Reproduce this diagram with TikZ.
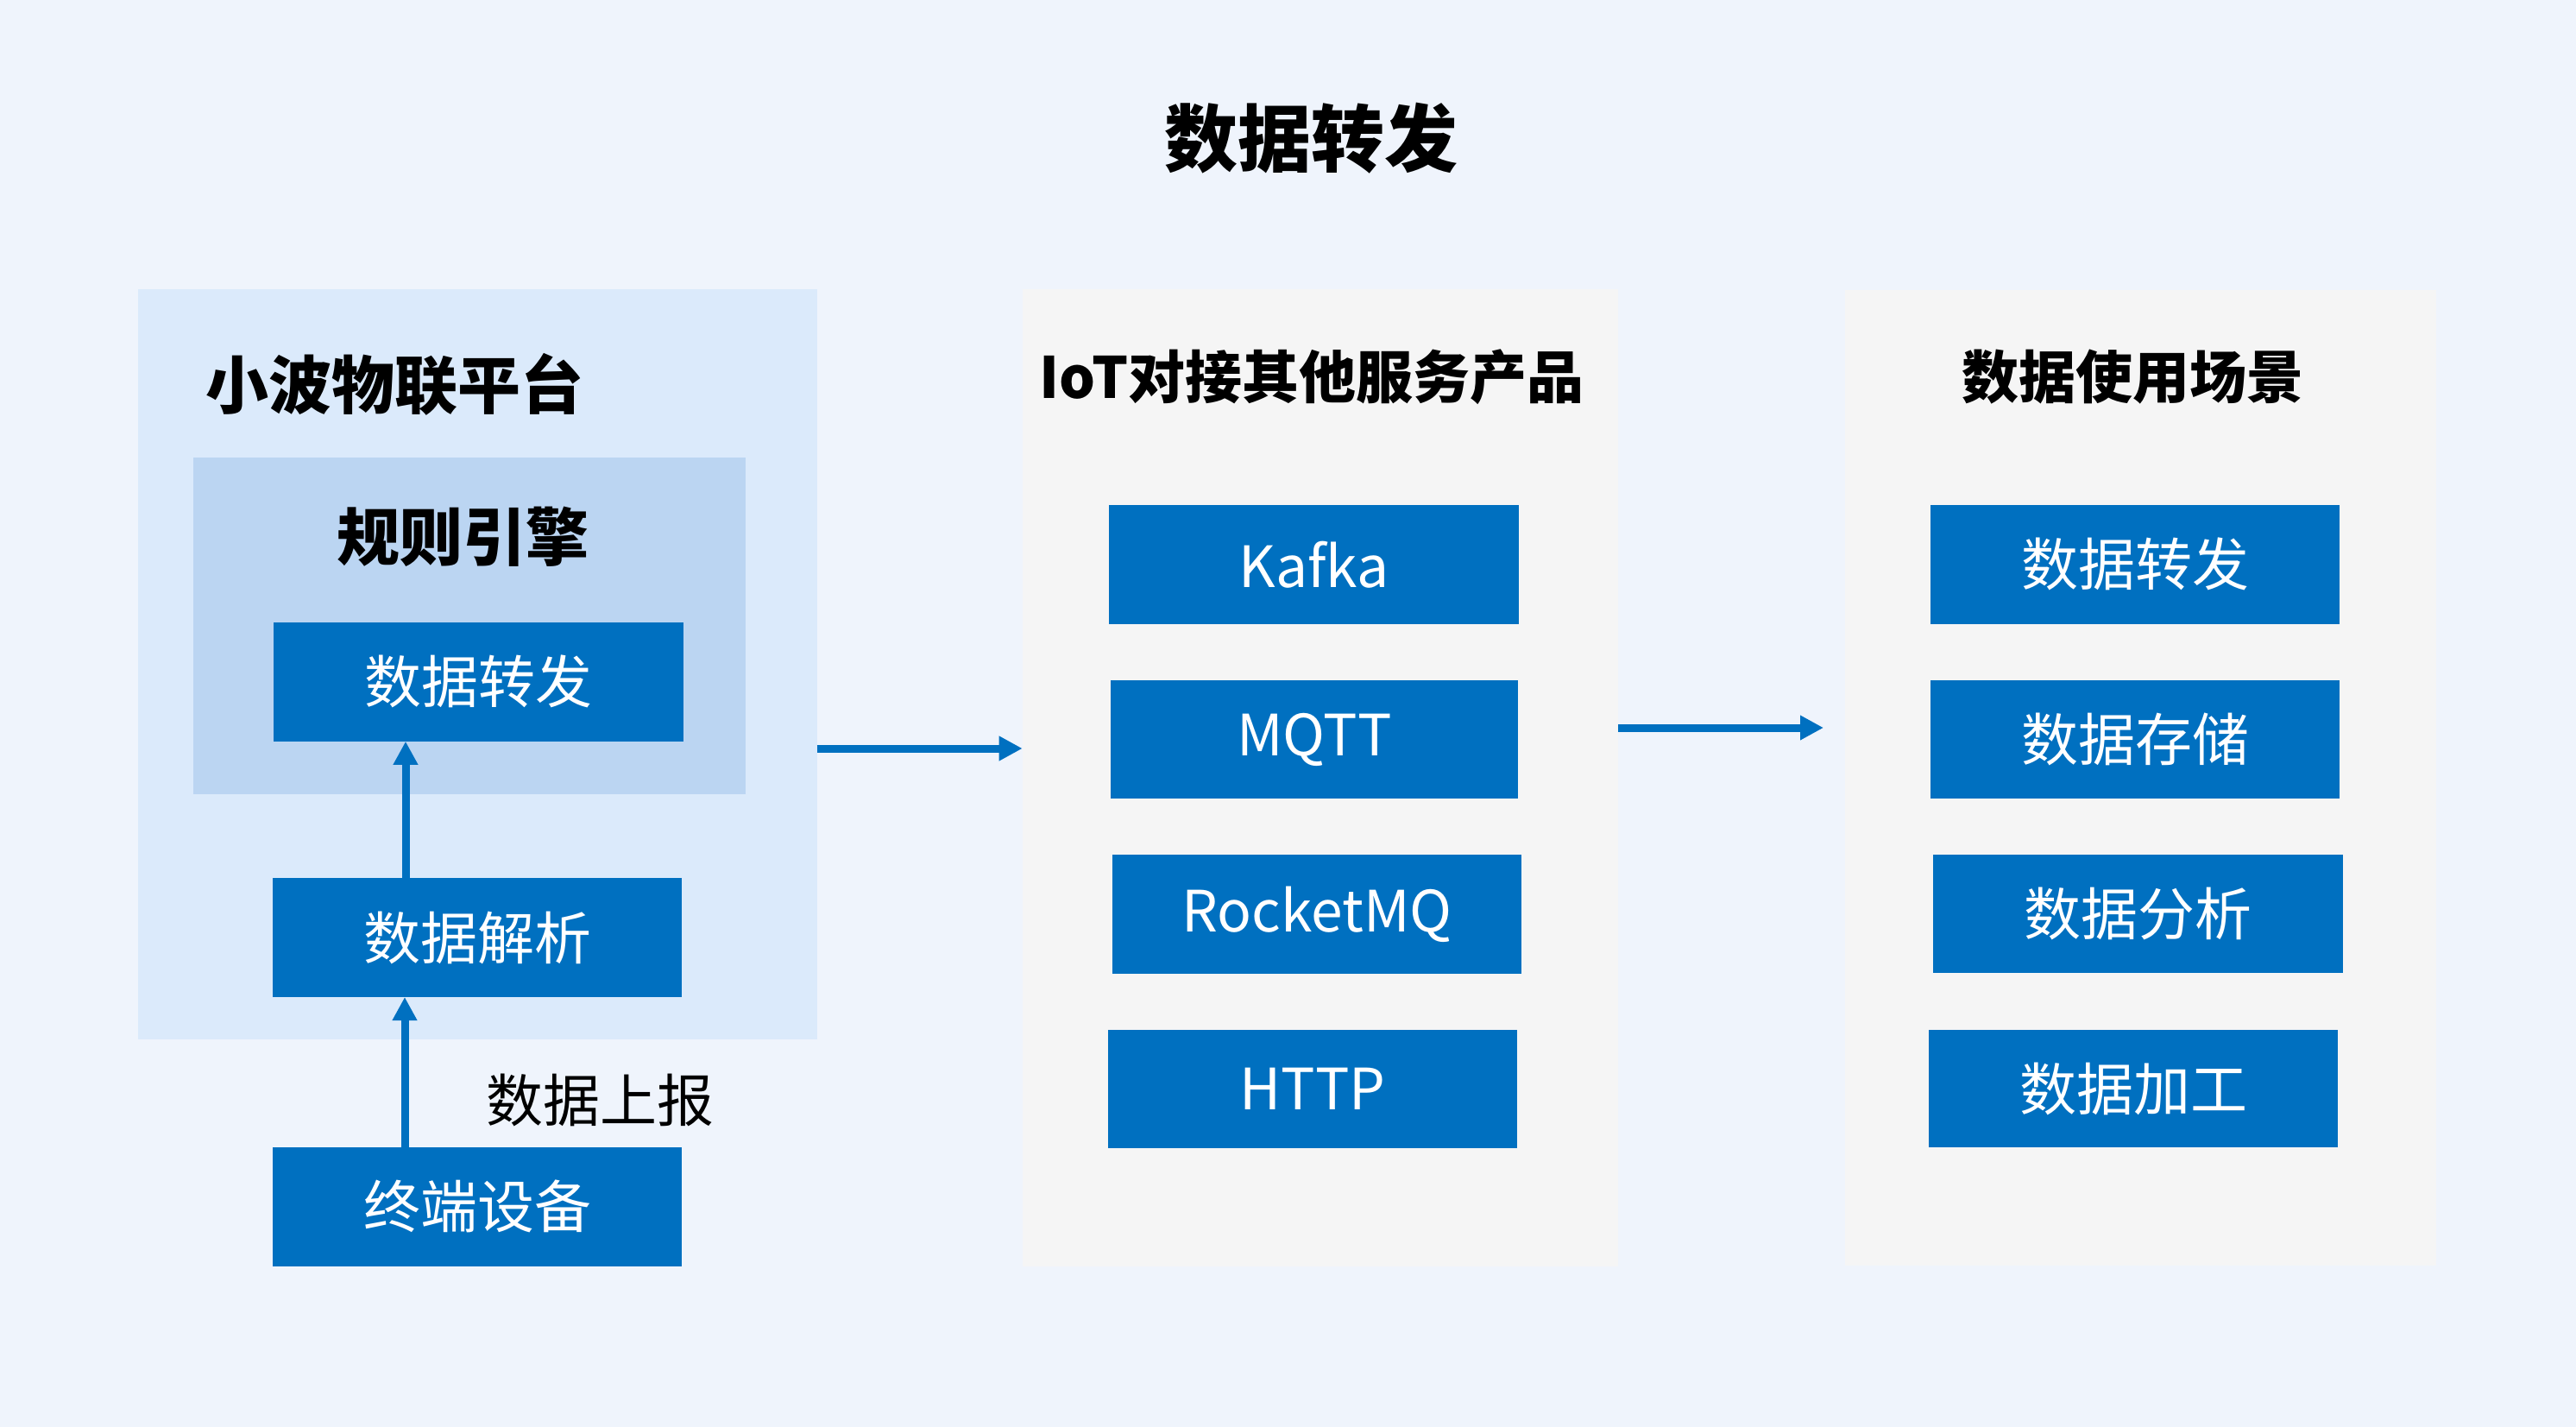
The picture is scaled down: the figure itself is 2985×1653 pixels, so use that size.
\documentclass[tikz,border=0pt]{standalone}
\usepackage{fontspec}
\setmainfont{Noto Sans CJK SC}
\usetikzlibrary{arrows.meta}
\definecolor{bgc}{HTML}{EFF4FC}
\definecolor{lpc}{HTML}{DBEAFB}
\definecolor{rec}{HTML}{BBD5F2}
\definecolor{boxc}{HTML}{0070C0}
\definecolor{grayc}{HTML}{F5F5F5}
\begin{document}
\begin{tikzpicture}[x=1pt,y=-1pt,
  panel/.style={inner sep=0pt, outer sep=0pt},
  bluebox/.style={fill=boxc, text=white, inner sep=0pt, outer sep=0pt, minimum width=474pt, minimum height=137.5pt, font=\fontsize{66}{66}\selectfont},
  bigtitle/.style={inner sep=0pt, font=\bfseries\fontsize{73}{73}\selectfont},
  coltitle/.style={inner sep=0pt, font=\bfseries\fontsize{66}{66}\selectfont},
  arr/.style={draw=boxc, line width=9pt, -{Triangle[length=27pt,width=27pt]}}]
\fill[bgc] (0,0) rectangle (2985,1653);
\useasboundingbox (0,0) rectangle (2985,1653);
% main title
\node[inner sep=0pt, font=\bfseries\fontsize{85}{85}\selectfont] (title) at (1519,160) {数据转发};
% left panel
\node[panel, fill=lpc, minimum width=786.5pt, minimum height=869pt] (lp) at (553.25,769.5) {};
\node[bigtitle] (lpt) at (457.5,445) {小波物联平台};
\node[panel, fill=rec, minimum width=640pt, minimum height=389.5pt] (re) at (544,724.75) {};
\node[bigtitle] (ret) at (536,621.5) {规则引擎};
\node[bluebox, minimum width=475pt, minimum height=138.3pt] (fwd) at (554.5,789.65) {数据转发};
\node[bluebox, minimum height=138pt] (parse) at (553,1086) {数据解析};
\node[bluebox] (dev) at (553,1397.75) {终端设备};
\node[inner sep=0pt, font=\fontsize{66}{66}\selectfont] (up) at (695,1274) {数据上报};
% middle panel
\node[panel, fill=grayc, minimum width=690.3pt, minimum height=1131.7pt] (mid) at (1529.85,900.85) {};
\node[coltitle] (midt) at (1520,437) {IoT对接其他服务产品};
\node[bluebox, minimum width=475pt] (kafka) at (1522.5,653.75) {Kafka};
\node[bluebox, minimum width=472pt, minimum height=137pt] (mqtt) at (1523,856.5) {MQTT};
\node[bluebox, minimum height=137.7pt] (rocket) at (1526,1058.85) {RocketMQ};
\node[bluebox, minimum height=136.7pt] (http) at (1521,1261.35) {HTTP};
% right panel
\node[panel, fill=grayc, minimum width=685pt, minimum height=1130pt] (rp) at (2480.5,901) {};
\node[coltitle] (rpt) at (2471,437) {数据使用场景};
\node[bluebox, minimum height=137.7pt] (r1) at (2474,653.85) {数据转发};
\node[bluebox, minimum height=137pt] (r2) at (2474,856.5) {数据存储};
\node[bluebox, minimum width=475pt, minimum height=137pt] (r3) at (2477.5,1058.5) {数据分析};
\node[bluebox, minimum height=136pt] (r4) at (2472,1261) {数据加工};
% connectors
\coordinate (ax1) at (470,0);
\coordinate (ax2) at (469,0);
\coordinate (ay1) at (0,867);
\coordinate (ay2) at (0,843);
\coordinate (a3end) at (2113,843);
\draw[arr] (parse.north -| ax1) -- (fwd.south -| ax1);
\draw[arr] (dev.north -| ax2) -- (parse.south -| ax2);
\draw[arr] (lp.east |- ay1) -- (mid.west |- ay1);
\draw[arr] (mid.east |- ay2) -- (a3end);
\end{tikzpicture}
\end{document}
